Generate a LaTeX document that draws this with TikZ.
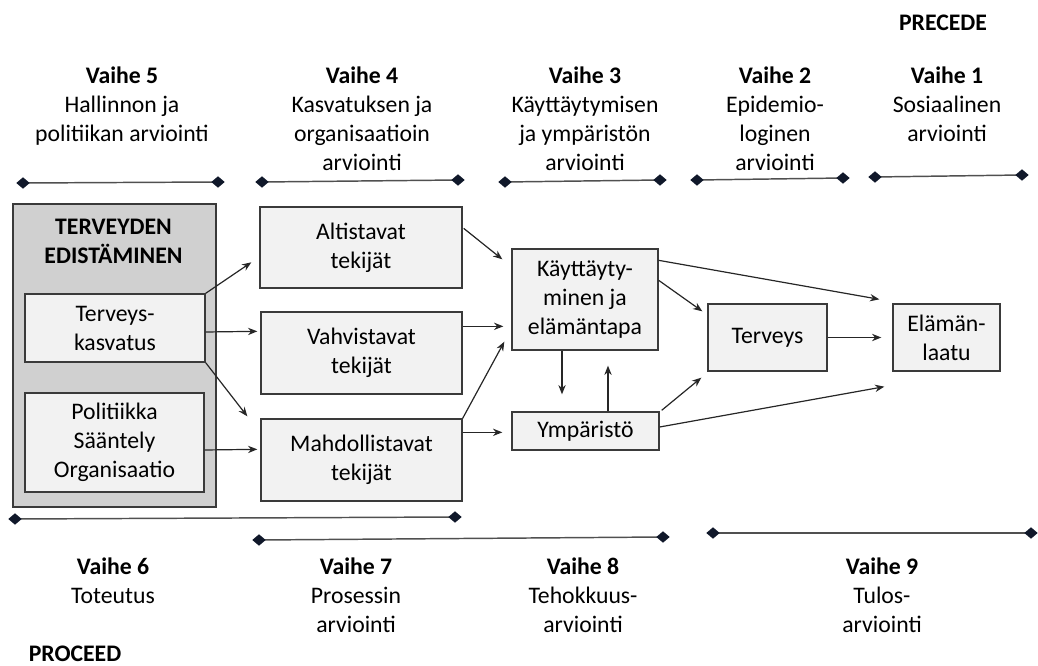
\documentclass[tikz,border=0pt]{standalone}
\usepackage{fontspec}
\setmainfont{Carlito}
\usetikzlibrary{arrows.meta,shapes.geometric,calc}
\definecolor{boxfill}{HTML}{F2F2F2}
\definecolor{bigfill}{HTML}{D0D0D0}
\definecolor{edgecol}{HTML}{3A3A3A}
\definecolor{diacol}{HTML}{10182A}
\definecolor{linecol}{HTML}{505050}
\begin{document}
\begin{tikzpicture}[x=0.75pt,y=-0.75pt,
  font=\fontsize{17.8}{21.75}\selectfont,
  box/.style={draw=edgecol, line width=1pt, fill=boxfill, align=center, inner sep=0pt},
  bigbox/.style={draw=edgecol, line width=1pt, fill=bigfill, inner sep=0pt},
  arr/.style={draw=black!85, line width=0.9pt, -{Stealth[length=7pt,width=5.5pt]}},
  ph/.style={draw=linecol, line width=1.1pt},
  dia/.style={diamond, fill=diacol, inner sep=0pt, minimum width=10.5pt, minimum height=9pt},
  hdr/.style={align=center, anchor=north, inner sep=0pt},
  ttl/.style={font=\fontsize{17.8}{21.75}\selectfont\bfseries, inner sep=0pt}]
\useasboundingbox (0,0) rectangle (1038,666);

% titles
\node[ttl] (precede) at (943,23) {PRECEDE};
\node[ttl] (proceed) at (75,654) {PROCEED};

% top headers
\node[hdr] (h5) at (122,67) {\textbf{Vaihe 5}\\Hallinnon ja\\politiikan arviointi};
\node[hdr] (h4) at (362,67) {\textbf{Vaihe 4}\\Kasvatuksen ja\\organisaatioin\\arviointi};
\node[hdr] (h3) at (585,67) {\textbf{Vaihe 3}\\Käyttäytymisen\\ja ympäristön\\arviointi};
\node[hdr] (h2) at (775,67) {\textbf{Vaihe 2}\\Epidemio-\\loginen\\arviointi};
\node[hdr] (h1) at (947,67) {\textbf{Vaihe 1}\\Sosiaalinen\\arviointi};

% bottom headers
\node[hdr] (h6) at (113,558) {\textbf{Vaihe 6}\\Toteutus};
\node[hdr] (h7) at (356,558) {\textbf{Vaihe 7}\\Prosessin\\arviointi};
\node[hdr] (h8) at (583,558) {\textbf{Vaihe 8}\\Tehokkuus-\\arviointi};
\node[hdr] (h9) at (882,558) {\textbf{Vaihe 9}\\Tulos-\\arviointi};

% phase lines
\draw[ph] (23,183) node[dia] (t1a) {} -- (218,182) node[dia] (t1b) {};
\draw[ph] (262,182) node[dia] (t2a) {} -- (458,180) node[dia] (t2b) {};
\draw[ph] (505,182) node[dia] (t3a) {} -- (660,180) node[dia] (t3b) {};
\draw[ph] (697,180) node[dia] (t4a) {} -- (843,178) node[dia] (t4b) {};
\draw[ph] (875,177) node[dia] (t5a) {} -- (1022,175) node[dia] (t5b) {};
\draw[ph] (15,519) node[dia] (b1a) {} -- (455,517) node[dia] (b1b) {};
\draw[ph] (259,540) node[dia] (b2a) {} -- (663,537) node[dia] (b2b) {};
\draw[ph] (713,533) node[dia] (b3a) {} -- (1031,533) node[dia] (b3b) {};

% health promotion block
\node[bigbox, minimum width=152.25pt, minimum height=227.25pt] (big) at (114.5,355.5) {};
\node[ttl, align=center] (bigt) at (113.5,241) {TERVEYDEN\\EDISTÄMINEN};
\node[box, minimum width=135pt, minimum height=51pt] (tk) at (115,328) {Terveys-\\kasvatus};
\node[box, minimum width=134.25pt, minimum height=74.25pt] (pol) at (114.5,442.5) {Politiikka\\Sääntely\\Organisaatio};

% factor boxes
\node[box, minimum width=151.5pt, minimum height=60.75pt] (alt) at (361,247.5) {Altistavat\\tekijät};
\node[box, minimum width=150.75pt, minimum height=61.5pt] (vah) at (361.5,353) {Vahvistavat\\tekijät};
\node[box, minimum width=150.75pt, minimum height=61.5pt] (mah) at (361.5,460) {Mahdollistavat\\tekijät};

\node[box, minimum width=109.5pt, minimum height=75.75pt] (kay) at (585,299.5) {Käyttäyty-\\minen ja\\elämäntapa};
\node[box, minimum width=110.25pt, minimum height=28.5pt] (ymp) at (585.5,431) {Ympäristö};
\node[box, minimum width=89.25pt, minimum height=50.25pt] (ter) at (767.5,337.5) {Terveys};
\node[box, minimum width=80.25pt, minimum height=50.25pt] (ela) at (946.5,337.5) {Elämän-\\laatu};

% connectors
\draw[arr] (tk.north east) -- ($(alt.north west)+(-8,56)$);
\draw[arr] ($(tk.east)+(0,4)$) -- ($(vah.north west)+(-3,20)$);
\draw[arr] (tk.south east) -- ($(mah.north west)+(-13,-2)$);
\draw[arr] ($(pol.east)+(0,7.5)$) -- ($(mah.north west)+(-3,31)$);
\draw[arr] ($(alt.north east)+(1,22)$) -- ($(kay.north west)+(-9,11)$);
\draw[arr] ($(vah.north east)+(0,15)$) -- ($(kay.north west)+(-8,78)$);
\draw[arr] (mah.north east) -- ($(kay.south west)+(-7,-9)$);
\draw[arr] ($(mah.north east)+(0,14)$) -- ($(ymp.north west)+(-9,21)$);
\draw[arr] ($(kay.south)+(-23,0)$) -- ($(ymp.north)+(-23.5,-17)$);
\draw[arr] ($(ymp.north)+(22.5,0)$) -- ($(kay.south)+(23,15)$);
\draw[arr] ($(kay.north east)+(0,12)$) -- ($(ela.north west)+(-13,-4)$);
\draw[arr] ($(kay.north east)+(0,32)$) -- ($(ter.north west)+(-5,8)$);
\draw[arr] ($(ymp.north east)+(2,-1)$) -- ($(ter.south west)+(-6,6)$);
\draw[arr] ($(ymp.east)+(0,-4)$) -- ($(ela.south west)+(-8,15)$);
\draw[arr] (ter.east) -- ($(ela.west)+(-11,0)$);
\end{tikzpicture}
\end{document}
